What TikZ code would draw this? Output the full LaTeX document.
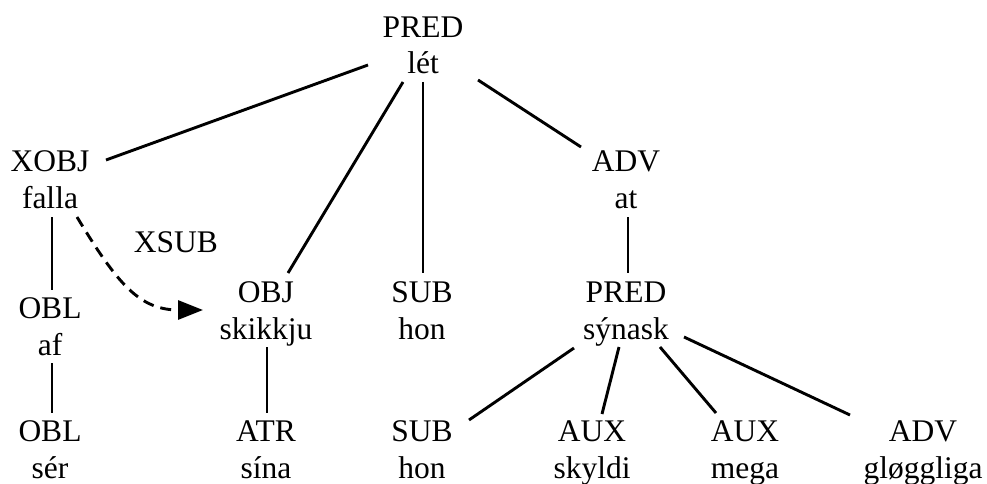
\documentclass[tikz,border=0pt]{standalone}
\usepackage{fontspec}
\setmainfont{Liberation Serif}
\usetikzlibrary{calc,arrows.meta}

\begin{document}
\begin{tikzpicture}[x=1pt,y=-1pt,
  word/.style={align=center, inner sep=0pt, anchor=base,
    font=\fontsize{31.5}{36.5}\selectfont},
  link/.style={line width=2.9pt},
  ctrl/.style={line width=2.9pt, dash pattern=on 11pt off 7pt,
    -{Triangle[length=25pt,width=19pt]}}]
\useasboundingbox (0,0) rectangle (987,484);

% dependency nodes: function label over word form (base = word baseline)
\node[word] (let)   at (423,74)  {PRED\\lét};
\node[word] (xobj)  at (50,208)  {XOBJ\\falla};
\node[word] (adv)   at (626,208) {ADV\\at};
\node[word] (xsub)  at (176,252) {XSUB};
\node[word] (obl)   at (50,355)  {OBL\\af};
\node[word] (obj)   at (266,339) {OBJ\\skikkju};
\node[word] (subA)  at (422,339) {SUB\\hon};
\node[word] (predB) at (626,339) {PRED\\sýnask};
\node[word] (oblB)  at (50,478)  {OBL\\sér};
\node[word] (atr)   at (266,478) {ATR\\sína};
\node[word] (subB)  at (422,478) {SUB\\hon};
\node[word] (auxA)  at (592,478) {AUX\\skyldi};
\node[word] (auxB)  at (745,478) {AUX\\mega};
\node[word] (advB)  at (923,478) {ADV\\gløggliga};

% tree edges
\draw[link] ($(let.base)+(-55,-9)$) -- ($(xobj.base)+(56,-48)$);
\draw[link] ($(let.base)+(-20,8)$)  -- ($(obj.base)+(22,-66)$);
\draw[link] ($(let.base)+(0,8)$)    -- ($(subA.base)+(1,-66)$);
\draw[link] ($(let.base)+(55,6)$)   -- ($(adv.base)+(-45,-61)$);
\draw[link] ($(adv.base)+(2,9)$)    -- ($(predB.base)+(2,-66)$);
\draw[link] ($(xobj.base)+(2,9)$)   -- ($(obl.base)+(2,-65)$);
\draw[link] ($(obl.base)+(2,8)$)    -- ($(oblB.base)+(2,-65)$);
\draw[link] ($(obj.base)+(1,8)$)    -- ($(atr.base)+(1,-65)$);
\draw[link] ($(predB.base)+(-52,9)$) -- ($(subB.base)+(47,-58)$);
\draw[link] ($(predB.base)+(-7,8)$)  -- ($(auxA.base)+(10,-64)$);
\draw[link] ($(predB.base)+(34,8)$)  -- ($(auxB.base)+(-29,-65)$);
\draw[link] ($(predB.base)+(58,-2)$) -- ($(advB.base)+(-73,-63)$);

% control (XSUB) relation
\draw[ctrl] ($(xobj.base)+(27,9)$) .. controls (118,285) and (140,310) .. ($(obj.base)+(-63,-29)$);
\end{tikzpicture}
\end{document}
